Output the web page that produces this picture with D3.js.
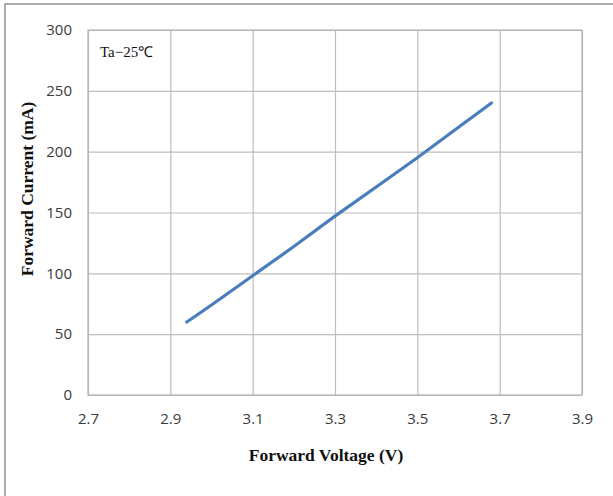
<!DOCTYPE html>
<html><head><meta charset="utf-8">
<script src="https://cdn.jsdelivr.net/npm/d3@7"></script>
<style>body{margin:0;background:#fff}svg{display:block}</style>
</head><body>
<svg id="c" width="613" height="496"></svg>
<script>
const voltage = [2.94, 3.0, 3.1, 3.2, 3.3, 3.4, 3.5, 3.6, 3.68];
const current = [60, 74, 98, 122, 147, 171, 195, 220, 240];
const xTicks = [2.7, 2.9, 3.1, 3.3, 3.5, 3.7, 3.9];
const yTicks = [0, 50, 100, 150, 200, 250, 300];
const xTitle = "Forward Voltage (V)";
const yTitle = "Forward Current (mA)";
const note = "Ta\u221225\u2103";

const svg = d3.select("#c");
const m = {l: 88, r: 582, t: 30, b: 395};
const x = d3.scaleLinear().domain([2.7, 3.9]).range([m.l, m.r]);
const y = d3.scaleLinear().domain([0, 300]).range([m.b, m.t]);

svg.append("rect").attr("x", 5).attr("y", 4).attr("width", 640).attr("height", 520)
  .attr("fill", "none").attr("stroke", "#9a9a9a").attr("stroke-width", 1.6);

const gx = svg.append("g").attr("transform", `translate(0,${m.b})`)
  .call(d3.axisBottom(x).tickValues(xTicks).tickSize(-(m.b - m.t)).tickPadding(18).tickFormat(d3.format(".1f")));
const gy = svg.append("g").attr("transform", `translate(${m.l},0)`)
  .call(d3.axisLeft(y).tickValues(yTicks).tickSize(-(m.r - m.l)).tickPadding(16));
[gx, gy].forEach(g => {
  g.select(".domain").remove();
  g.selectAll(".tick line").attr("stroke", "#bdbdbd").attr("stroke-width", 1.2);
  g.selectAll(".tick text").attr("fill", "#3a3a3a").style("font-family", "'Open Sans', sans-serif").style("font-size", "15px");
});
svg.append("rect").attr("x", m.l).attr("y", m.t).attr("width", m.r - m.l).attr("height", m.b - m.t)
  .attr("fill", "none").attr("stroke", "#b5b5b5").attr("stroke-width", 1.2);

const pts = voltage.map((v, i) => [v, current[i]]);
svg.append("path").datum(pts)
  .attr("d", d3.line().x(d => x(d[0])).y(d => y(d[1])))
  .attr("fill", "none").attr("stroke", "#4a7ebb").attr("stroke-width", 3.2).attr("stroke-linecap", "round");

svg.append("text").attr("x", 100).attr("y", 57).text(note)
  .style("font-family", "'Liberation Serif', serif").style("font-size", "15px").attr("fill", "#111");

svg.append("text").attr("x", 326).attr("y", 461).attr("text-anchor", "middle").text(xTitle)
  .style("font-family", "'Liberation Serif', serif").style("font-weight", "bold").style("font-size", "17.5px").attr("fill", "#111");

svg.append("text").attr("transform", "translate(33,189) rotate(-90)").attr("text-anchor", "middle").text(yTitle)
  .style("font-family", "'Liberation Serif', serif").style("font-weight", "bold").style("font-size", "17.5px").attr("fill", "#111");
</script>
</body></html>
